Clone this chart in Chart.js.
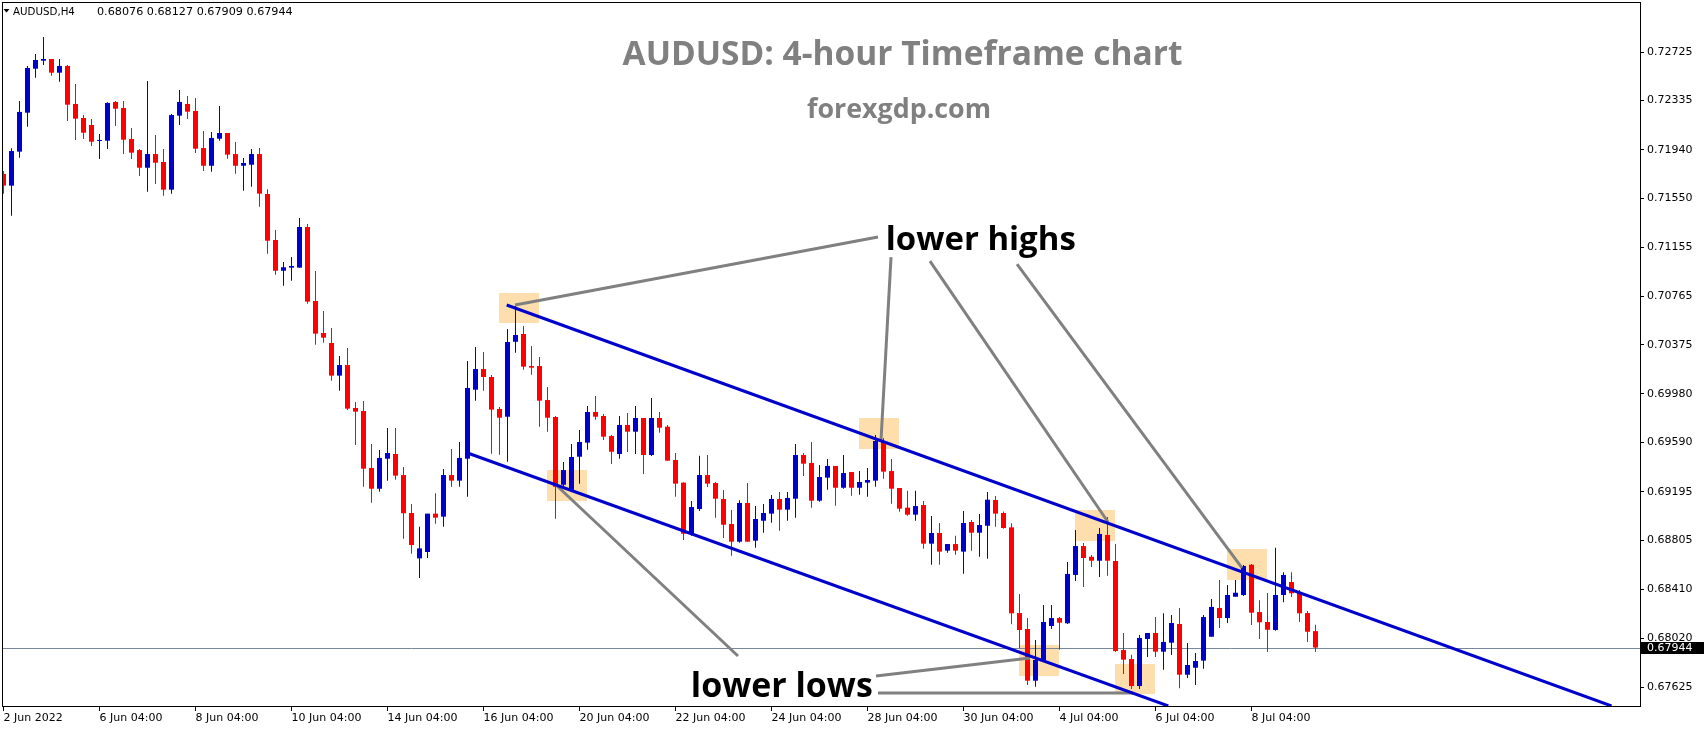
<!DOCTYPE html>
<html>
<head>
<meta charset="utf-8">
<title>AUDUSD H4</title>
<script src="https://cdn.jsdelivr.net/npm/chart.js@4.4.1/dist/chart.umd.min.js"></script>
<style>
html,body{margin:0;padding:0;background:#fff;overflow:hidden;}
canvas{display:block;}
</style>
</head>
<body>
<canvas id="chart" width="1704" height="730"></canvas>
<script>
// ---------------- data ----------------
const symbol = 'AUDUSD,H4';

const opens = [
0.71746,0.71652,0.71925,0.72238,0.72591,0.72655,0.72669,0.72559,0.72613,0.72308,
0.72195,0.72139,0.72011,0.72013,0.72324,0.72276,0.72027,0.71938,0.71796,0.71906,
0.71842,0.71620,0.72214,0.72308,0.72252,0.71954,0.71812,0.72029,0.72075,0.71906,
0.71812,0.71820,0.71906,0.71585,0.71216,0.70969,0.70994,0.70994,0.71320,0.70726,
0.70469,0.70389,0.70127,0.70212,0.69867,0.69843,0.69386,0.69219,0.69460,0.69498,
0.69329,0.69024,0.68660,0.68711,0.69019,0.68995,0.69329,0.69284,0.69460,0.70014,
0.70180,0.70116,0.69859,0.69797,0.70399,0.70461,0.70204,0.70204,0.69931,0.69795,
0.69251,0.69209,0.69476,0.69589,0.69835,0.69803,0.69642,0.69498,0.69731,0.69677,
0.69787,0.69490,0.69787,0.69717,0.69450,0.69268,0.68858,0.69056,0.69329,0.69265,
0.69137,0.68936,0.68794,0.69105,0.68802,0.68962,0.69019,0.69137,0.69051,0.69139,
0.69490,0.69426,0.69123,0.69308,0.69402,0.69227,0.69353,0.69227,0.69268,0.69284,
0.69602,0.69361,0.69225,0.69067,0.69011,0.69088,0.68778,0.68864,0.68722,0.68775,
0.68714,0.68952,0.68866,0.68922,0.69129,0.69024,0.68909,0.68221,0.68093,0.67678,
0.67844,0.68117,0.68181,0.68139,0.68527,0.68759,0.68673,0.68641,0.68848,0.68639,
0.67924,0.67852,0.67635,0.68013,0.68061,0.67911,0.67983,0.68133,0.67726,0.67782,
0.67839,0.68031,0.68262,0.68181,0.68352,0.68366,0.68609,0.68229,0.68149,0.68085,
0.68366,0.68470,0.68390,0.68221,0.68076];

const highs = [
0.71770,0.71952,0.72332,0.72613,0.72709,0.72846,0.72669,0.72669,0.72621,0.72468,
0.72219,0.72187,0.72067,0.72321,0.72332,0.72332,0.72115,0.71946,0.72492,0.72059,
0.71946,0.72227,0.72420,0.72372,0.72356,0.72091,0.72083,0.72292,0.72075,0.72003,
0.71874,0.71946,0.71954,0.71623,0.71296,0.71039,0.71079,0.71393,0.71344,0.70967,
0.70646,0.70509,0.70285,0.70349,0.69915,0.69923,0.69578,0.69530,0.69707,0.69707,
0.69393,0.69097,0.68914,0.69019,0.69182,0.69378,0.69538,0.69594,0.70245,0.70357,
0.70317,0.70132,0.69875,0.70501,0.70686,0.70526,0.70365,0.70277,0.70036,0.69803,
0.69434,0.69578,0.69691,0.69883,0.69964,0.69819,0.69650,0.69803,0.69827,0.69883,
0.69787,0.69947,0.69835,0.69731,0.69506,0.69271,0.69121,0.69484,0.69490,0.69273,
0.69209,0.69048,0.69126,0.69265,0.69080,0.69097,0.69169,0.69193,0.69193,0.69578,
0.69506,0.69594,0.69410,0.69458,0.69402,0.69490,0.69353,0.69361,0.69386,0.69650,
0.69626,0.69458,0.69225,0.69203,0.69203,0.69121,0.69000,0.68944,0.68775,0.68842,
0.69040,0.68968,0.69016,0.69193,0.69161,0.69036,0.68942,0.68374,0.68181,0.68005,
0.68286,0.68286,0.68189,0.68631,0.68888,0.68783,0.68687,0.68904,0.68992,0.68775,
0.68061,0.67887,0.68045,0.68061,0.68189,0.68219,0.68205,0.68262,0.67981,0.67900,
0.68205,0.68334,0.68486,0.68446,0.68486,0.68607,0.68615,0.68323,0.68382,0.68746,
0.68548,0.68548,0.68406,0.68237,0.68127];

const lows = [
0.71588,0.71411,0.71877,0.72126,0.72519,0.72621,0.72535,0.72487,0.72171,0.72019,
0.72027,0.71971,0.71866,0.71946,0.72131,0.71906,0.71866,0.71730,0.71604,0.71665,
0.71572,0.71588,0.72139,0.72187,0.71914,0.71770,0.71764,0.72013,0.71869,0.71748,
0.71612,0.71644,0.71483,0.71106,0.70937,0.70849,0.70889,0.70994,0.70704,0.70375,
0.70391,0.70086,0.70006,0.69851,0.69570,0.69235,0.69107,0.69195,0.69284,0.69292,
0.68818,0.68698,0.68502,0.68663,0.68938,0.68914,0.69235,0.69235,0.69155,0.69926,
0.70006,0.69500,0.69492,0.69436,0.70311,0.70175,0.70134,0.69717,0.69677,0.68979,
0.69235,0.69195,0.69260,0.69532,0.69773,0.69610,0.69418,0.69460,0.69514,0.69498,
0.69337,0.69482,0.69669,0.69444,0.69155,0.68808,0.68842,0.69040,0.69233,0.68987,
0.68824,0.68681,0.68786,0.68794,0.68746,0.68866,0.68946,0.68882,0.68962,0.68987,
0.69321,0.69067,0.69115,0.69211,0.69083,0.69219,0.69163,0.69171,0.69155,0.69235,
0.69300,0.69099,0.69035,0.69003,0.68962,0.68738,0.68609,0.68609,0.68706,0.68690,
0.68537,0.68722,0.68673,0.68657,0.68914,0.68898,0.68131,0.67938,0.67643,0.67630,
0.67831,0.68093,0.67927,0.68133,0.68478,0.68430,0.68591,0.68510,0.68521,0.67908,
0.67732,0.67611,0.67611,0.67868,0.67868,0.67766,0.67884,0.67617,0.67700,0.67643,
0.67774,0.68031,0.68101,0.68141,0.68352,0.68358,0.68125,0.68013,0.67908,0.68079,
0.68307,0.68350,0.68149,0.67989,0.67909];

const closes = [
0.71652,0.71930,0.72244,0.72597,0.72661,0.72669,0.72559,0.72613,0.72302,0.72190,
0.72077,0.72005,0.72019,0.72316,0.72270,0.72021,0.71917,0.71796,0.71906,0.71836,
0.71620,0.72219,0.72324,0.72246,0.71949,0.71812,0.72035,0.72075,0.71901,0.71812,
0.71834,0.71906,0.71588,0.71210,0.70969,0.70997,0.71007,0.71320,0.70721,0.70464,
0.70432,0.70127,0.70212,0.69862,0.69838,0.69380,0.69219,0.69466,0.69506,0.69324,
0.69022,0.68767,0.68740,0.69019,0.68987,0.69329,0.69284,0.69466,0.70028,0.70180,
0.70116,0.69854,0.69789,0.70397,0.70453,0.70199,0.70191,0.69926,0.69789,0.69235,
0.69369,0.69474,0.69594,0.69835,0.69797,0.69637,0.69516,0.69731,0.69677,0.69787,
0.69490,0.69787,0.69709,0.69444,0.69260,0.68858,0.69072,0.69329,0.69260,0.69139,
0.68930,0.68794,0.69105,0.68794,0.68976,0.69024,0.69137,0.69051,0.69145,0.69490,
0.69420,0.69123,0.69313,0.69402,0.69227,0.69345,0.69227,0.69273,0.69289,0.69602,
0.69356,0.69219,0.69059,0.69011,0.69080,0.68778,0.68864,0.68714,0.68775,0.68722,
0.68944,0.68866,0.68928,0.69131,0.69019,0.68904,0.68219,0.68085,0.67678,0.67844,
0.68149,0.68181,0.68144,0.68535,0.68759,0.68663,0.68641,0.68856,0.68641,0.67916,
0.67847,0.67635,0.68021,0.68061,0.67911,0.67989,0.68141,0.67726,0.67804,0.67836,
0.68189,0.68270,0.68181,0.68366,0.68384,0.68599,0.68224,0.68147,0.68087,0.68366,
0.68527,0.68380,0.68219,0.68071,0.67944];

const xTickIdx = [0,12,24,36,48,60,72,84,96,108,120,132,144,156];
const xTickLabels = ['2 Jun 2022','6 Jun 04:00','8 Jun 04:00','10 Jun 04:00','14 Jun 04:00',
  '16 Jun 04:00','20 Jun 04:00','22 Jun 04:00','24 Jun 04:00','28 Jun 04:00',
  '30 Jun 04:00','4 Jul 04:00','6 Jul 04:00','8 Jul 04:00'];
const yTicks = [0.72725,0.72335,0.71940,0.71550,0.71155,0.70765,0.70375,0.69980,
  0.69590,0.69195,0.68805,0.68410,0.68020,0.67625];

// drawing objects placed on the chart (candle index, price)
const upperChannel = [{x:62.9, y:0.70694},{x:201.0, y:0.67475}];
const lowerChannel = [{x:58.1, y:0.69504},{x:145.6, y:0.67475}];
const pointerLines = [
  [63.94,0.70694,109.31,0.71240],
  [110.94,0.71079,109.69,0.69610],
  [115.81,0.71047,138.06,0.68952],
  [126.69,0.71023,154.81,0.68583],
  [68.94,0.69257,91.81,0.67876],
  [109.06,0.67716,128.31,0.67860],
  [109.31,0.67579,141.19,0.67579]
];
const highlightBoxes = [
  [61.94,66.94,0.70793,0.70552],
  [67.94,72.94,0.69369,0.69123],
  [106.94,111.94,0.69787,0.69540],
  [133.94,138.94,0.69048,0.68802],
  [126.94,131.94,0.67965,0.67718],
  [138.94,143.94,0.67812,0.67571],
  [152.90,157.90,0.68735,0.68486]
];
const textNotes = [
  {text:'AUDUSD: 4-hour Timeframe chart', at:[112.38,0.72621], width:560, color:'#808080'},
  {text:'forexgdp.com', at:[111.94,0.72195], width:184, color:'#808080'},
  {text:'lower highs', at:[122.16,0.71136], width:190, color:'#000000'},
  {text:'lower lows', at:[97.29,0.67547], width:182, color:'#000000'}
];

// ---------------- style ----------------
const BULL = '#0000CD', BEAR = '#FF0000';
const CHANNEL = '#0000CD', POINTER = '#808080', BOX = '#FFDEAD', PRICE_LINE = '#778899';
const AXIS_FONT = {family:'DejaVu Sans', size:11};

const candleColor = i => closes[i] >= opens[i] ? BULL : BEAR;
const fmt = v => v.toFixed(5);

const bodyData = opens.map((o, i) => ({x: i, y: [o, closes[i]]}));
const wickData = lows.map((l, i) => ({x: i, y: [l, highs[i]]}));

const lineSets = [
  {type:'line', data: upperChannel, borderColor: CHANNEL, borderWidth: 3, pointRadius: 0, order: 0, clip: 0},
  {type:'line', data: lowerChannel, borderColor: CHANNEL, borderWidth: 3, pointRadius: 0, order: 0, clip: 0}
].concat(pointerLines.map(([x0, y0, x1, y1]) => ({
  type:'line', data:[{x:x0, y:y0},{x:x1, y:y1}], borderColor: POINTER, borderWidth: 3,
  pointRadius: 0, order: 0, clip: 0
})));

function fitFont(ctx, text, weight, family, width) {
  ctx.font = `${weight} 100px "${family}"`;
  const w = ctx.measureText(text).width;
  const size = 100 * width / w;
  ctx.font = `${weight} ${size.toFixed(2)}px "${family}"`;
}

const overlay = {
  id: 'overlay',
  beforeDatasetsDraw(chart) {
    const {ctx, chartArea: a, scales: {x, y}} = chart;
    ctx.save();
    ctx.beginPath();
    ctx.rect(a.left, a.top, a.right - a.left, a.bottom - a.top);
    ctx.clip();
    ctx.fillStyle = BOX;
    highlightBoxes.forEach(([i0, i1, p0, p1]) => {
      const x0 = Math.round(x.getPixelForValue(i0)), x1 = Math.round(x.getPixelForValue(i1));
      const y0 = Math.round(y.getPixelForValue(p0)), y1 = Math.round(y.getPixelForValue(p1));
      ctx.fillRect(x0, y0, x1 - x0, y1 - y0);
    });
    const py = Math.round(y.getPixelForValue(closes[closes.length - 1])) + 0.5;
    ctx.strokeStyle = PRICE_LINE;
    ctx.lineWidth = 1;
    ctx.beginPath();
    ctx.moveTo(a.left, py);
    ctx.lineTo(a.right, py);
    ctx.stroke();
    ctx.restore();
  },
  afterDatasetsDraw(chart) {
    const {ctx, scales: {x, y}} = chart;
    ctx.save();
    textNotes.forEach(n => {
      fitFont(ctx, n.text, 'bold', 'Open Sans', n.width);
      ctx.fillStyle = n.color;
      ctx.textAlign = 'center';
      ctx.textBaseline = 'alphabetic';
      ctx.fillText(n.text, x.getPixelForValue(n.at[0]), y.getPixelForValue(n.at[1]));
    });
    ctx.restore();
  },
  afterDraw(chart) {
    const {ctx, chartArea: a, scales: {y}} = chart;
    ctx.save();
    // frame
    ctx.strokeStyle = '#000';
    ctx.lineWidth = 1;
    ctx.strokeRect(a.left + 0.5, a.top + 0.5, a.right - a.left, a.bottom - a.top);
    // current price box
    const n = closes.length - 1;
    const last = closes[n];
    const py = Math.round(y.getPixelForValue(last));
    ctx.fillStyle = '#000';
    ctx.fillRect(a.right + 1, py - 6, chart.width - a.right - 1, 12);
    ctx.fillStyle = '#fff';
    ctx.font = '11px "DejaVu Sans"';
    ctx.textAlign = 'left';
    ctx.textBaseline = 'middle';
    ctx.fillText(fmt(last), a.right + 7, py + 0.5);
    // header
    ctx.fillStyle = '#000';
    ctx.beginPath();
    ctx.moveTo(a.left + 1.5, 9);
    ctx.lineTo(a.left + 7.5, 9);
    ctx.lineTo(a.left + 4.5, 12.5);
    ctx.closePath();
    ctx.fill();
    ctx.textBaseline = 'middle';
    ctx.textAlign = 'left';
    fitFont(ctx, symbol, 'normal', 'DejaVu Sans', 62);
    ctx.fillText(symbol, a.left + 11, 12);
    const hdr = [opens[n], highs[n], lows[n], closes[n]].map(fmt).join(' ');
    fitFont(ctx, hdr, 'normal', 'DejaVu Sans', 196);
    ctx.fillText(hdr, a.left + 95, 12);
    ctx.restore();
  }
};

Chart.defaults.font.family = 'DejaVu Sans';

new Chart(document.getElementById('chart').getContext('2d'), {
  type: 'bar',
  data: {
    datasets: lineSets.concat([
      {type:'bar', data: bodyData, backgroundColor: c => candleColor(c.dataIndex),
       barThickness: 5, grouped: false, minBarLength: 1, borderWidth: 0, inflateAmount: 0, order: 1, clip: 0},
      {type:'bar', data: wickData, backgroundColor: c => candleColor(c.dataIndex),
       barThickness: 1, grouped: false, borderWidth: 0, inflateAmount: 0, order: 2, clip: 0}
    ])
  },
  options: {
    responsive: false,
    devicePixelRatio: 1,
    animation: false,
    events: [],
    layout: {padding: {left: 2, top: 2, right: 0, bottom: 0}},
    plugins: {legend: {display: false}, tooltip: {enabled: false}, title: {display: false}},
    scales: {
      x: {
        type: 'linear', min: -0.1875, max: 204.5625, offset: false, bounds: 'data',
        grid: {display: true, drawOnChartArea: false, drawTicks: true, tickLength: 5, color: '#000', offset: false},
        border: {display: false},
        ticks: {autoSkip: false, maxRotation: 0, minRotation: 0, align: 'start', padding: 1,
                color: '#000', font: AXIS_FONT,
                callback: v => xTickLabels[xTickIdx.indexOf(v)] || ''},
        afterBuildTicks: s => { s.ticks = xTickIdx.map(v => ({value: v})); },
        afterFit: s => { s.height = 24; s.paddingLeft = 0; s.paddingRight = 0; }
      },
      y: {
        type: 'linear', position: 'right', min: 0.674748, max: 0.731265, bounds: 'data', beginAtZero: false,
        grid: {display: true, drawOnChartArea: false, drawTicks: true, tickLength: 4, color: '#000'},
        border: {display: false},
        ticks: {autoSkip: false, padding: 3, color: '#000', font: AXIS_FONT, callback: v => fmt(v)},
        afterBuildTicks: s => { s.ticks = yTicks.map(v => ({value: v})); },
        afterFit: s => { s.width = 64; s.paddingTop = 0; s.paddingBottom = 0; }
      }
    }
  },
  plugins: [overlay]
});
</script>
</body>
</html>
